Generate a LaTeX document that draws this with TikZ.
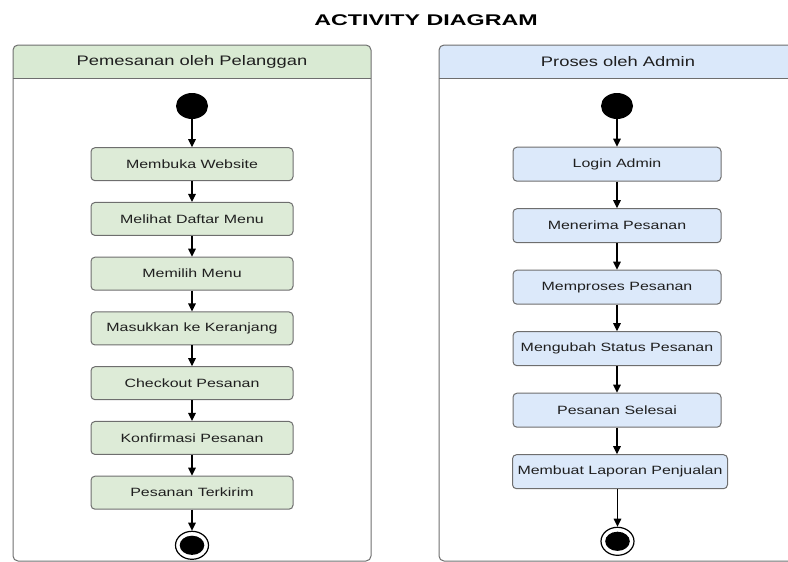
\documentclass[tikz,border=0pt]{standalone}
\usepackage{fontspec}
\setmainfont{Liberation Sans}[FakeStretch=1.33]
\newfontfamily\titlefont{Liberation Sans}[FakeStretch=1.5]
\usepackage{tikz}
\usetikzlibrary{shapes.geometric, arrows.meta, positioning}
\definecolor{lanegreen}{HTML}{D9EAD3}
\definecolor{laneblue}{HTML}{DAE8FA}
\definecolor{boxgreen}{HTML}{DDEBD7}
\definecolor{boxblue}{HTML}{DCE9FA}
\definecolor{edgegray}{HTML}{6E6E6E}
\definecolor{inkgray}{HTML}{1F1F1F}
\tikzstyle{lane} = [draw = edgegray,
			line width = 1pt,
			rounded corners = 5pt]
\tikzstyle{lanetitle} = [text = inkgray,
			font = \fontsize{13.8}{16}\selectfont]
\tikzstyle{act} = [rectangle,
			draw = edgegray,
			line width = 1pt,
			rounded corners = 4pt,
			text = inkgray,
			font = \fontsize{12}{14}\selectfont,
			text centered]
\tikzstyle{actA} = [act,
			fill = boxgreen,
			minimum width = 202pt,
			minimum height = 33pt]
\tikzstyle{actB} = [act,
			fill = boxblue,
			minimum width = 208pt,
			minimum height = 34pt]
\tikzstyle{startnode} = [ellipse,
			fill = black,
			minimum width = 32pt,
			minimum height = 26pt,
			inner sep = 0pt]
\tikzstyle{endnode} = [ellipse,
			draw = black,
			fill = white,
			line width = 1.2pt,
			minimum width = 33pt,
			minimum height = 28pt,
			inner sep = 0pt,
			path picture = {\fill[black] (path picture bounding box.center) ellipse (12.3pt and 9.6pt);}]
\tikzstyle{flow} = [-{Triangle[length=8pt, width=7.5pt]},
			line width = 1.1pt]

\begin{document}
\begin{tikzpicture}[x=1pt, y=-1pt]
	\useasboundingbox (0,0) rectangle (788,562);
	\node [text = black, font = \titlefont\bfseries\fontsize{15.5}{18}\selectfont] (title) at (426,20.5) {ACTIVITY DIAGRAM};

	% lane headers and frames
	\fill [lanegreen] (13,78) [rounded corners = 5pt] -- (13,45) -- (371,45) [sharp corners] -- (371,78) -- cycle;
	\fill [laneblue] (439,78) [rounded corners = 5pt] -- (439,45) -- (797,45) [sharp corners] -- (797,78) -- cycle;
	\draw [lane] (13,45) rectangle (371,561);
	\draw [lane] (439,45) rectangle (797,561);
	\draw [draw = edgegray, line width = 1pt] (13,78) -- (371,78);
	\draw [draw = edgegray, line width = 1pt] (439,78) -- (797,78);
	\node [lanetitle] (laneA) at (192,61.5) {Pemesanan oleh Pelanggan};
	\node [lanetitle] (laneB) at (618,61.5) {Proses oleh Admin};

	% pelanggan
	\node [startnode] (startA) at (192,106) {};
	\node [actA, below=28pt of startA] (membuka) {Membuka Website};
	\node [actA, below=20.75pt of membuka] (melihat) {Melihat Daftar Menu};
	\node [actA, below=20.75pt of melihat] (memilih) {Memilih Menu};
	\node [actA, below=20.75pt of memilih] (masukkan) {Masukkan ke Keranjang};
	\node [actA, below=20.75pt of masukkan] (checkout) {Checkout Pesanan};
	\node [actA, below=20.75pt of checkout] (konfirmasi) {Konfirmasi Pesanan};
	\node [actA, below=20.75pt of konfirmasi] (terkirim) {Pesanan Terkirim};
	\node [endnode, below=21pt of terkirim] (endA) {};

	% admin
	\node [startnode] (startB) at (617,106) {};
	\node [actB, below=27.5pt of startB] (login) {Login Admin};
	\node [actB, below=26.5pt of login] (menerima) {Menerima Pesanan};
	\node [actB, below=26.5pt of menerima] (memproses) {Memproses Pesanan};
	\node [actB, below=26.5pt of memproses] (mengubah) {Mengubah Status Pesanan};
	\node [actB, below=26.5pt of mengubah] (selesai) {Pesanan Selesai};
	\node [actB, minimum width = 215pt, below=26.5pt of selesai, xshift=3pt] (laporan) {Membuat Laporan Penjualan};
	\node [endnode, below=37.5pt of laporan, xshift=-2.5pt] (endB) {};

	\draw [flow] (startA) -- (membuka);
	\draw [flow] (membuka) -- (melihat);
	\draw [flow] (melihat) -- (memilih);
	\draw [flow] (memilih) -- (masukkan);
	\draw [flow] (masukkan) -- (checkout);
	\draw [flow] (checkout) -- (konfirmasi);
	\draw [flow] (konfirmasi) -- (terkirim);
	\draw [flow] (terkirim) -- (endA);

	\draw [flow] (startB) -- (login);
	\draw [flow] (login) -- (menerima);
	\draw [flow] (menerima) -- (memproses);
	\draw [flow] (memproses) -- (mengubah);
	\draw [flow] (mengubah) -- (selesai);
	\draw [flow] (selesai) -- (laporan.north -| selesai.south);
	\draw [flow] (laporan.south -| endB.north) -- (endB);
\end{tikzpicture}
\end{document}
